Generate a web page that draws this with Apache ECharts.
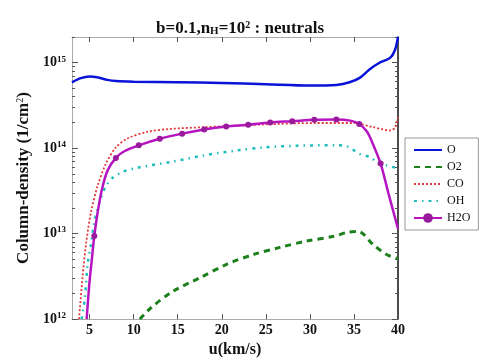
<!DOCTYPE html>
<html>
<head>
<meta charset="utf-8">
<style>
  html, body { margin: 0; padding: 0; background: #fff; }
  #main { width: 480px; height: 363px; }
</style>
<script src="https://cdn.jsdelivr.net/npm/echarts@6/dist/echarts.min.js"></script>
</head>
<body>
<div id="main"></div>
<script>
// velocity u (km/s) and column densities (1/cm^2)
var oU = [3, 4, 5, 6, 7, 8, 10, 15, 20, 25, 30, 33, 34.5, 35.7, 36.8, 37.9, 39.1, 39.65, 40];
var oV = [5.9e14, 6.6e14, 6.9e14, 6.7e14, 6.3e14, 6.1e14, 6.0e14, 5.9e14, 5.8e14, 5.6e14, 5.4e14, 5.5e14, 5.9e14, 6.7e14, 8.4e14, 1.0e15, 1.14e15, 1.4e15, 2e15];

var o2U = [10.7, 11.9, 14.4, 17.6, 20.6, 23.6, 26.6, 29.65, 32.7, 34.3, 35.5, 37.2, 38.7, 40];
var o2V = [1e12, 1.34e12, 2.1e12, 3.07e12, 4.4e12, 5.7e12, 6.9e12, 8.2e12, 9.3e12, 1.04e13, 1.06e13, 7.4e12, 5.7e12, 5.1e12];

var coU = [3.8, 4.2, 4.58, 5.15, 5.9, 6.85, 7.98, 9.3, 11.5, 14.2, 17.9, 21, 25, 30.4, 34.9, 37.2, 38.3, 39.1, 39.65, 40];
var coV = [1e12, 3.1e12, 7.4e12, 1.78e13, 3.6e13, 6.6e13, 1.02e14, 1.3e14, 1.55e14, 1.68e14, 1.76e14, 1.82e14, 1.9e14, 1.97e14, 1.97e14, 1.76e14, 1.66e14, 1.61e14, 1.73e14, 2.3e14];

var ohU = [4.1, 4.47, 4.77, 5.15, 5.53, 6.1, 6.85, 7.6, 8.74, 10.4, 14.2, 17.9, 21.7, 24.7, 28.5, 33, 34.2, 35.7, 36.8, 37.6, 38.7, 40];
var ohV = [1e12, 1.8e12, 4.4e12, 7.4e12, 1.35e13, 2.3e13, 3.6e13, 4.5e13, 5.3e13, 5.9e13, 6.9e13, 8.2e13, 9.4e13, 1.02e14, 1.07e14, 1.08e14, 1.05e14, 8.5e13, 7.9e13, 6.9e13, 6.3e13, 5.8e13];

var h2oU = [4.66, 4.97, 5.23, 5.53, 5.91, 6.39, 7.04, 7.98, 8.93, 10.58, 12.96, 15.5, 18, 20.5, 23, 25.5, 28, 30.5, 33, 34.6, 35.6, 36.45, 37.0, 38.03, 38.9, 40];
var h2oV = [1e12, 2.6e12, 4.75e12, 9.4e12, 1.77e13, 3.27e13, 5.5e13, 7.7e13, 9.2e13, 1.08e14, 1.29e14, 1.48e14, 1.65e14, 1.79e14, 1.88e14, 2.0e14, 2.07e14, 2.15e14, 2.17e14, 2.1e14, 1.92e14, 1.58e14, 1.22e14, 6.6e13, 3.0e13, 1.14e13];
var h2oMarks = [5.53, 7.98, 10.58, 12.96, 15.5, 18, 20.5, 23, 25.5, 28, 30.5, 33, 35.6, 38.03];

var xTicks = [5, 10, 15, 20, 25, 30, 35, 40];
var yDecades = [12, 13, 14, 15];

function pairs(u, v) {
  return u.map(function (x, i) { return [x, v[i]]; });
}

var minorLog = [];
yDecades.forEach(function (d) {
  for (var k = 2; k <= 9; k++) {
    var l = d + Math.log10(k);
    if (l <= 15.30103) minorLog.push(l);
  }
});

var serif = '"Liberation Serif", "DejaVu Serif", serif';
var chart = echarts.init(document.getElementById('main'));

var h2oData = h2oU.map(function (x, i) {
  return {
    value: [x, h2oV[i]],
    symbol: h2oMarks.indexOf(x) >= 0 ? 'circle' : 'none'
  };
});

function tickAxis(pos, values, len, line) {
  return {
    type: 'value', position: pos, min: 12, max: 15.30103,
    axisLine: line ? { show: true, lineStyle: { color: line.color, width: line.width } } : { show: false },
    axisTick: { show: true, inside: true, length: len, customValues: values, lineStyle: { color: '#555' } },
    axisLabel: { show: false },
    splitLine: { show: false }
  };
}

// line-only legend entries, H2O keeps its marker
var noMark = { opacity: 0 };

chart.setOption({
  animation: false,
  title: {
    text: '{t|b=0.1,n}{sub|H}{t|=10}{sup|2}{t| : neutrals}',
    left: 235, top: 15, textAlign: 'center',
    textStyle: {
      rich: {
        t: { fontFamily: serif, fontWeight: 'bold', fontSize: 17, color: '#111' },
        sub: { fontFamily: serif, fontWeight: 'bold', fontSize: 11, color: '#111', verticalAlign: 'bottom', padding: [6, 0, 0, 0] },
        sup: { fontFamily: serif, fontSize: 10, color: '#111', verticalAlign: 'top', padding: [0, 0, 7, 0] }
      }
    }
  },
  legend: {
    orient: 'vertical',
    left: 405, top: 138,
    width: 67,
    padding: [6, 8, 6, 8],
    itemGap: 5,
    itemWidth: 28, itemHeight: 12,
    borderColor: '#999', borderWidth: 1,
    textStyle: { fontFamily: serif, fontSize: 12, color: '#111' },
    data: [
      { name: 'O', itemStyle: noMark },
      { name: 'O2', itemStyle: noMark },
      { name: 'CO', itemStyle: noMark },
      { name: 'OH', itemStyle: noMark },
      'H2O'
    ]
  },
  grid: { left: 72, top: 37, width: 326, height: 289 },
  xAxis: [{
    type: 'value', min: 3, max: 40,
    name: 'u(km/s)', nameLocation: 'middle', nameGap: 17,
    nameTextStyle: { fontFamily: serif, fontWeight: 'bold', fontSize: 16, color: '#111' },
    axisLine: { show: true, lineStyle: { color: '#aaa', width: 1 } },
    axisTick: { show: true, inside: true, length: 5, customValues: xTicks, lineStyle: { color: '#555' } },
    axisLabel: { customValues: xTicks, margin: 4, fontFamily: serif, fontWeight: 'bold', fontSize: 14, color: '#111' },
    splitLine: { show: false }
  }, {
    type: 'value', min: 3, max: 40, position: 'top',
    axisLine: { show: true, lineStyle: { color: '#aaa', width: 1 } },
    axisTick: { show: true, inside: true, length: 5, customValues: xTicks, lineStyle: { color: '#555' } },
    axisLabel: { show: false },
    splitLine: { show: false }
  }],
  yAxis: [{
    type: 'log', logBase: 10, min: 1e12, max: 2e15,
    name: '{t|Column-density (1/cm}{sup|2}{t|)}', nameLocation: 'middle', nameGap: 35,
    nameTextStyle: {
      rich: {
        t: { fontFamily: serif, fontWeight: 'bold', fontSize: 17, color: '#111' },
        sup: { fontFamily: serif, fontSize: 10, color: '#111', verticalAlign: 'top', padding: [0, 0, 7, 0] }
      }
    },
    axisLine: { show: true, lineStyle: { color: '#aaa', width: 1 } },
    axisTick: { show: true, inside: true, length: 6, lineStyle: { color: '#555' } },
    axisLabel: {
      margin: 6,
      showMaxLabel: false,
      formatter: function (v) {
        var e = Math.log10(v);
        if (Math.abs(e - Math.round(e)) > 1e-6) return '';
        return '{b|10}{s|' + Math.round(e) + '}';
      },
      rich: {
        b: { fontFamily: serif, fontWeight: 'bold', fontSize: 14, color: '#111' },
        s: { fontFamily: serif, fontWeight: 'bold', fontSize: 9, color: '#111', verticalAlign: 'top', padding: [0, 0, 7, 0] }
      }
    },
    splitLine: { show: false }
  },
    tickAxis('left', minorLog, 3, null),
    tickAxis('right', yDecades, 6, { color: '#111', width: 1.5 }),
    tickAxis('right', minorLog, 3, null)
  ],
  series: [{
    name: 'O', type: 'line', smooth: 0.3, symbol: 'none',
    data: pairs(oU, oV),
    lineStyle: { color: '#0a14d8', width: 2.5 },
    itemStyle: { color: '#0a14d8' }
  }, {
    name: 'O2', type: 'line', smooth: 0.3, symbol: 'none',
    data: pairs(o2U, o2V),
    lineStyle: { color: '#1c801c', width: 3, type: [6, 5] },
    itemStyle: { color: '#1c801c' }
  }, {
    name: 'CO', type: 'line', smooth: 0.3, symbol: 'none',
    data: pairs(coU, coV),
    lineStyle: { color: '#e0383a', width: 1.8, type: [2, 2] },
    itemStyle: { color: '#e0383a' }
  }, {
    name: 'OH', type: 'line', smooth: 0.3, symbol: 'none',
    data: pairs(ohU, ohV),
    lineStyle: { color: '#20bcbc', width: 2.5, type: [3, 5, 1.5, 5] },
    itemStyle: { color: '#20bcbc' }
  }, {
    name: 'H2O', type: 'line', smooth: 0.3,
    symbol: 'circle', symbolSize: 6, showAllSymbol: true,
    data: h2oData,
    lineStyle: { color: '#b514c0', width: 2.5 },
    itemStyle: { color: '#9a1a9e' }
  }]
});
</script>
</body>
</html>
